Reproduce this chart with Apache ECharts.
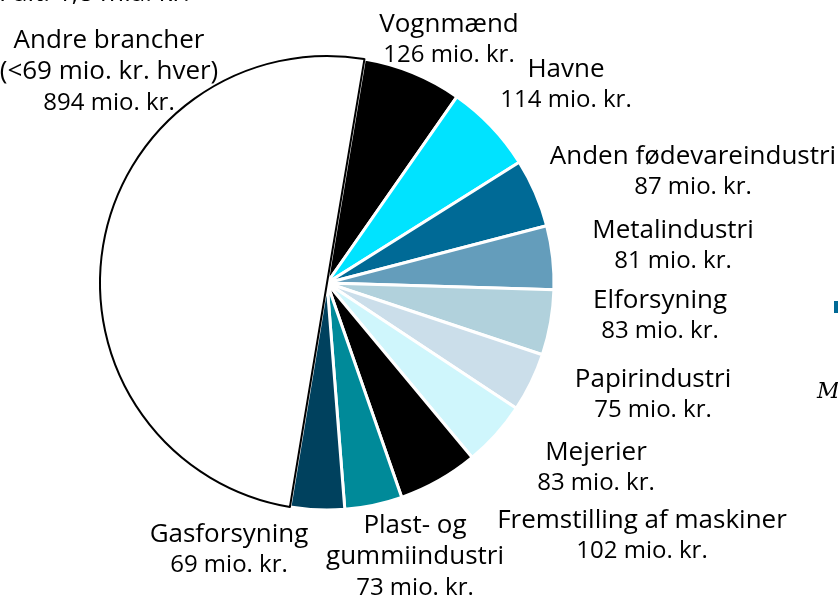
<!DOCTYPE html>
<html>

<head>
    <meta charset="UTF-8">
    <script src="https://cdn.jsdelivr.net/npm/echarts@6/dist/echarts.min.js"></script>
    <style>
        html, body { margin: 0; padding: 0; background: #fff; }
    </style>
</head>

<body>
    <div id="main" style="width: 838px; height: 600px;"></div>
    <script>
        // brancher, med uret fra toppen
        var names = ['Vognmænd', 'Havne', 'Anden fødevareindustri', 'Metalindustri', 'Elforsyning',
            'Papirindustri', 'Mejerier', 'Fremstilling af maskiner', 'Plast- og\ngummiindustri',
            'Gasforsyning', 'Andre brancher\n(<69 mio. kr. hver)'];
        var values = [126, 114, 87, 81, 83, 75, 83, 102, 73, 69, 894];
        var colors = ['#000000', '#00e3ff', '#006a96', '#649dbb', '#b1d1dc', '#cbdeea',
            '#cff6fc', '#000000', '#008a99', '#00415e', '#ffffff'];
        // label centre positions (px)
        var labelPos = [[449, 40], [566, 85], [693, 172], [673, 246], [660, 316], [653, 395],
            [596, 468], [642, 536], [415, 557], [229, 550], [109, 72]];

        var myChart = echarts.init(document.getElementById('main'));
        var font = 'Open Sans';

        var seriesData = [];
        for (var i = 0; i < names.length; i++) {
            var item = {
                name: names[i],
                value: values[i],
                itemStyle: { color: colors[i], borderColor: '#ffffff', borderWidth: 3 }
            };
            if (i === names.length - 1) {
                item.itemStyle = { color: '#ffffff', borderColor: '#000000', borderWidth: 2 };
            }
            seriesData.push(item);
        }

        var option = {
            animation: false,
            title: {
                text: 'I alt: 1,8 mia. kr.',
                left: -6,
                top: -24,
                textStyle: { fontFamily: font, fontSize: 26, fontWeight: 'normal', color: '#000' }
            },
            graphic: [
                { type: 'rect', shape: { x: 834, y: 301, width: 6, height: 12 }, style: { fill: '#006a96' } },
                {
                    type: 'text', left: 817, top: 381,
                    style: { text: 'M', font: 'italic 22px "DejaVu Serif"', fill: '#000' }
                }
            ],
            series: [
                {
                    type: 'pie',
                    center: [327, 283],
                    radius: [0, 227],
                    startAngle: 80.5,
                    clockwise: true,
                    data: seriesData,
                    label: {
                        show: true,
                        position: 'inside',
                        overflow: 'none',
                        formatter: function (p) {
                            return '{n|' + p.name.split('\n').join('}\n{n|') + '}\n{v|' + p.value + ' mio. kr.}';
                        },
                        rich: {
                            n: { fontFamily: font, fontSize: 26, lineHeight: 31, color: '#000', align: 'center' },
                            v: { fontFamily: font, fontSize: 24, lineHeight: 31, color: '#000', align: 'center' }
                        }
                    },
                    labelLine: { show: false },
                    labelLayout: function (params) {
                        var p = labelPos[params.dataIndex];
                        return { x: p[0], y: p[1], align: 'center', verticalAlign: 'middle' };
                    },
                    emphasis: { disabled: true }
                }
            ]
        };

        option && myChart.setOption(option);
    </script>
</body>

</html>
